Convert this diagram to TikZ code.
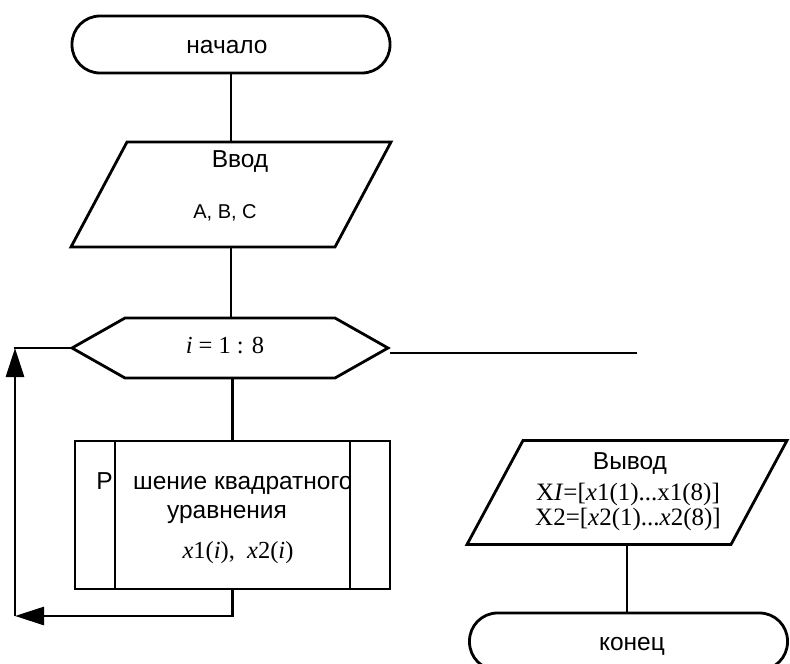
\documentclass[tikz,border=0pt]{standalone}
\usepackage{fontspec}
\setmainfont{Liberation Serif}
\newfontfamily\sansfont{Liberation Sans}
\usetikzlibrary{shapes.symbols,arrows.meta}

\tikzset{
  box/.style={draw=black, line width=2.8pt, inner sep=0pt, outer sep=0pt},
  term/.style={box, rectangle, rounded corners=28pt, minimum width=318pt, minimum height=57pt},
  % data block: an invisible body whose top edge is pushed right and bottom edge left
  io/.style={rectangle, inner sep=0pt, outer sep=0pt, minimum width=264pt, minimum height=105pt},
  ioframe/.style={line width=2.8pt, line join=miter},
  loophead/.style={box, signal, signal to=west and east, signal pointer angle=59,
    minimum width=316pt, minimum height=60pt},
  proc/.style={box, rectangle, minimum width=315pt, minimum height=148pt},
  flow/.style={line width=2.8pt},
  arr/.style={flow, -{Triangle[length=29pt,width=18pt]}},
  lab/.style={font=\sansfont\fontsize{24.5}{28}\selectfont, anchor=base, inner sep=0pt},
  smalllab/.style={font=\sansfont\fontsize{20}{24}\selectfont, anchor=base, inner sep=0pt},
  mathlab/.style={font=\fontsize{24.5}{28}\selectfont, anchor=base, inner sep=0pt},
}

\newcommand{\ioslant}[1]{%
  \draw[ioframe] ([xshift=28pt]#1.north west) -- ([xshift=28pt]#1.north east)
    -- ([xshift=-28pt]#1.south east) -- ([xshift=-28pt]#1.south west) -- cycle;}

\begin{document}
\begin{tikzpicture}[x=1pt,y=-1pt]
\useasboundingbox (0,0) rectangle (790,664);

% blocks
\node[term] (start) at (231,44.5) {};
\node[lab] (starttxt) at (227,53) {начало};

\node[io] (in) at (231,194.5) {};
\ioslant{in}
\node[lab] (intxt) at (240,167) {Ввод};
\node[smalllab] (invars) at (225,218) {A, B, C};

\node[loophead] (hex) at (230,348) {};
\node[mathlab] (hextxt) at (225,353) {\textit{i} = 1 : 8};

\node[proc] (sub) at (232.5,515) {};
\node[lab] (subP) at (104.5,489) {Р};
\begin{scope}
  \clip (sub.north west) rectangle ([xshift=-40pt]sub.south east);
  \node[lab, anchor=base west] (subtxt) at (133,489) {шение квадратного};
\end{scope}
\node[lab] (subtxt2) at (227,518) {уравнения};
\node[mathlab] (subtxt3) at (238,558) {\textit{x}1(\textit{i}),\ \ \textit{x}2(\textit{i})};
\draw[flow] ([xshift=40pt]sub.north west) -- ([xshift=40pt]sub.south west);
\draw[flow] ([xshift=-40pt]sub.north east) -- ([xshift=-40pt]sub.south east);

\node[io, minimum height=104pt] (out) at (627,492.5) {};
\ioslant{out}
\node[lab] (outtxt) at (630,469) {Вывод};
\node[mathlab, font=\fontsize{25}{28}\selectfont] (outx1) at (628,500) {X\textit{I}=[\textit{x}1(1)...x1(8)]};
\node[mathlab, font=\fontsize{25}{28}\selectfont] (outx2) at (628,525) {X2=[\textit{x}2(1)...\textit{x}2(8)]};

\node[term] (end) at (628.5,641.5) {};
\node[lab] (endtxt) at (632,650) {конец};

% loop return path
\coordinate (lb) at (15,616);
\coordinate (lt) at (15,348);
\coordinate (r1) at (390,353);
\coordinate (r2) at (637,353);

% connectors
\draw[flow] (start.south) -- (start.south |- in.north);
\draw[flow] (in.south) -- (in.south |- hex.north);
\draw[flow] (sub.south |- hex.south) -- (sub.north);
\draw[arr] (sub.south) -- (sub.south |- lb) -- (lb);
\draw[arr] (lb) -- (lt);
\draw[flow] ([xshift=-1.4pt]lt) -- (hex.west);
\draw[flow] (r1) -- (r2);
\draw[flow] (out.south) -- (out.south |- end.north);
\end{tikzpicture}
\end{document}
